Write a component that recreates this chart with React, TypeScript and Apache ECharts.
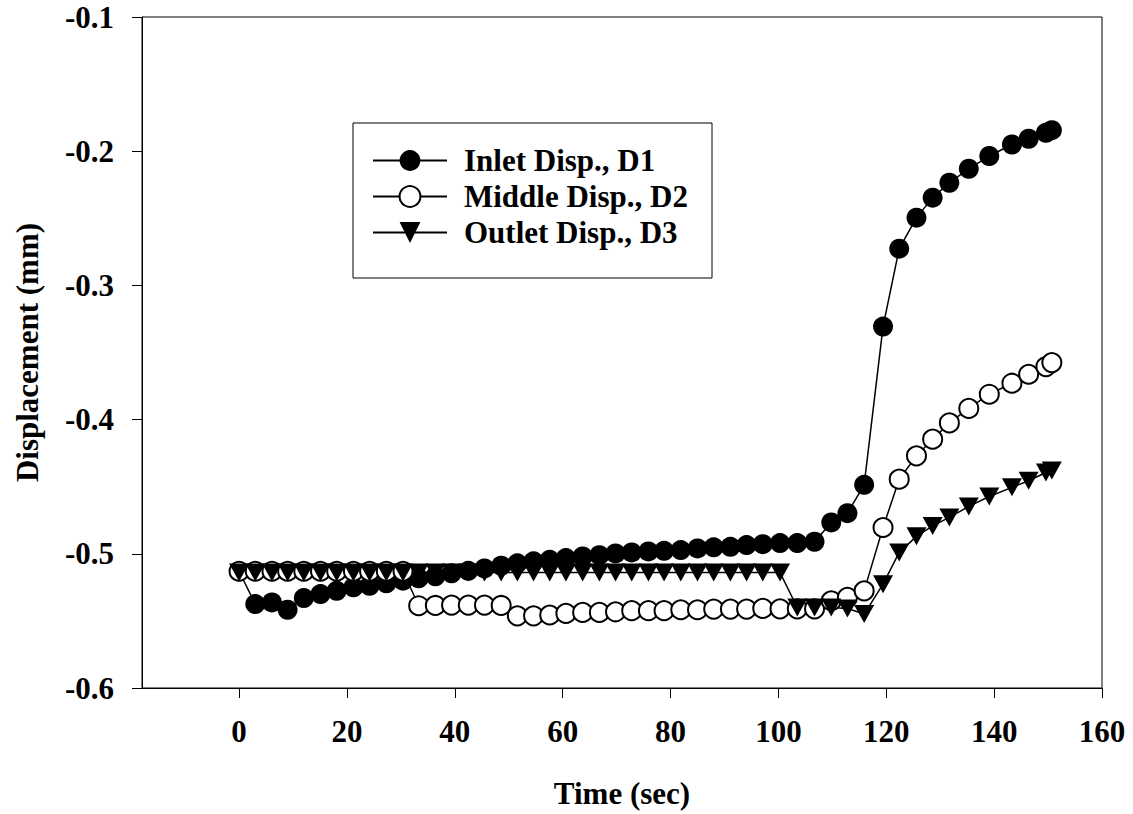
import React, { useEffect, useRef } from "react";
import * as echarts from "echarts";

const times = [
  0, 3.0, 6.1, 9.0, 12.0, 15.1, 18.1, 21.2, 24.2, 27.3, 30.4,
  33.3, 36.4, 39.4, 42.5, 45.5, 48.6, 51.6, 54.6, 57.6,
  60.6, 63.7, 66.8, 69.8, 72.8, 75.9, 78.8, 81.9, 85.0, 88.0,
  91.1, 94.1, 97.1, 100.3, 103.5, 106.7, 109.8, 112.8, 115.9,
  119.4, 122.4, 125.6, 128.6, 131.7, 135.3, 139.1, 143.3, 146.4, 149.6, 150.7,
];

const inletD1 = [
  -0.513, -0.5375, -0.5362, -0.5417, -0.533, -0.53, -0.5276, -0.525, -0.5238, -0.522, -0.52,
  -0.5183, -0.5168, -0.5145, -0.5127, -0.5109, -0.5089, -0.5071, -0.5056, -0.5045,
  -0.5032, -0.502, -0.501, -0.4997, -0.499, -0.4982, -0.4978, -0.4972, -0.496, -0.4952,
  -0.4948, -0.4935, -0.4928, -0.492, -0.492, -0.491, -0.4766, -0.4697, -0.4486,
  -0.3307, -0.2726, -0.2495, -0.2346, -0.2235, -0.2131, -0.2036, -0.195, -0.1907, -0.1863, -0.1843,
];

const middleD2 = [
  -0.513, -0.513, -0.513, -0.513, -0.513, -0.513, -0.513, -0.513, -0.513, -0.513, -0.513,
  -0.5387, -0.5385, -0.5382, -0.5382, -0.5382, -0.5385, -0.5462, -0.5462, -0.5456,
  -0.5444, -0.5437, -0.5437, -0.5432, -0.5424, -0.5424, -0.5424, -0.5417, -0.5417, -0.5412,
  -0.5412, -0.5412, -0.5407, -0.541, -0.541, -0.541, -0.535, -0.5325, -0.5276,
  -0.4804, -0.4444, -0.427, -0.4146, -0.4025, -0.3917, -0.3811, -0.3729, -0.3662, -0.3605, -0.3575,
];

const outletD3 = [
  -0.514, -0.514, -0.514, -0.514, -0.514, -0.514, -0.514, -0.514, -0.514, -0.514, -0.514,
  -0.514, -0.514, -0.514, -0.514, -0.514, -0.514, -0.514, -0.514, -0.514,
  -0.514, -0.514, -0.514, -0.514, -0.514, -0.514, -0.514, -0.514, -0.514, -0.514,
  -0.514, -0.514, -0.514, -0.514, -0.54, -0.54, -0.54, -0.5407, -0.5449,
  -0.5226, -0.499, -0.487, -0.4792, -0.4729, -0.4647, -0.4573, -0.4505, -0.4456, -0.4394, -0.438,
];

const xTicks = [0, 20, 40, 60, 80, 100, 120, 140, 160];
const seriesNames = ["Inlet Disp., D1", "Middle Disp., D2", "Outlet Disp., D3"];

const FONT = "'Liberation Serif', 'Times New Roman', serif";

const pair = (ys: number[]) => times.map((t, i) => [t, ys[i]]);

export default function App() {
  const ref = useRef<HTMLDivElement>(null);
  useEffect(() => {
    if (!ref.current) return;
    const chart = echarts.init(ref.current, undefined, { renderer: "svg" });
    const textBase = { fontFamily: FONT, fontWeight: "bold" as const, color: "#000", fontSize: 31 };
    const lineStyle = { color: "#000", width: 1.5 };
    chart.setOption({
      animation: false,
      backgroundColor: "#fff",
      grid: {
        left: 142,
        right: 31,
        top: 17,
        bottom: 125,
        show: true,
        borderColor: "#000",
        borderWidth: 1,
        backgroundColor: "transparent",
      },
      xAxis: {
        type: "value",
        min: -18,
        max: 160,
        name: "Time (sec)",
        nameLocation: "middle",
        nameGap: 90,
        nameTextStyle: textBase,
        splitLine: { show: false },
        axisLine: { onZero: false, lineStyle: { color: "#000", width: 1 } },
        axisTick: { inside: false, length: 10, customValues: xTicks, lineStyle: { color: "#000", width: 1 } },
        axisLabel: { ...textBase, margin: 28, customValues: xTicks },
      },
      yAxis: {
        type: "value",
        min: -0.6,
        max: -0.1,
        interval: 0.1,
        name: "Displacement (mm)",
        nameLocation: "middle",
        nameGap: 99,
        nameTextStyle: textBase,
        splitLine: { show: false },
        axisLine: { show: true, onZero: false, lineStyle: { color: "#000", width: 1 } },
        axisTick: { show: true, inside: false, length: 10, lineStyle: { color: "#000", width: 1 } },
        axisLabel: { ...textBase, margin: 28, formatter: (v: number) => v.toFixed(1) },
      },
      legend: {
        data: seriesNames,
        orient: "vertical",
        left: 372,
        top: 145,
        padding: 0,
        itemWidth: 74,
        itemHeight: 26,
        itemGap: 5,
        selectedMode: false,
        textStyle: { ...textBase, lineHeight: 31, padding: [0, 0, 0, 12] },
      },
      graphic: [
        {
          type: "rect",
          shape: { x: 353, y: 123, width: 359, height: 155 },
          style: { fill: "none", stroke: "#000", lineWidth: 1 },
          z: 0,
          silent: true,
        },
      ],
      series: [
        {
          name: seriesNames[0],
          type: "line",
          data: pair(inletD1),
          symbol: "circle",
          symbolSize: 20,
          showAllSymbol: true,
          itemStyle: { color: "#000" },
          lineStyle,
        },
        {
          name: seriesNames[1],
          type: "line",
          data: pair(middleD2),
          symbol: "emptyCircle",
          symbolSize: 19,
          showAllSymbol: true,
          itemStyle: { color: "#000", borderWidth: 1.5 },
          lineStyle,
        },
        {
          name: seriesNames[2],
          type: "line",
          data: pair(outletD3),
          symbol: "triangle",
          symbolRotate: 180,
          symbolSize: [20, 18],
          showAllSymbol: true,
          itemStyle: { color: "#000" },
          lineStyle,
        },
      ],
    });
    return () => chart.dispose();
  }, []);
  return (
    <div
      ref={ref}
      style={{ position: "fixed", left: 0, top: 0, width: 1133, height: 814, background: "#fff" }}
    />
  );
}
